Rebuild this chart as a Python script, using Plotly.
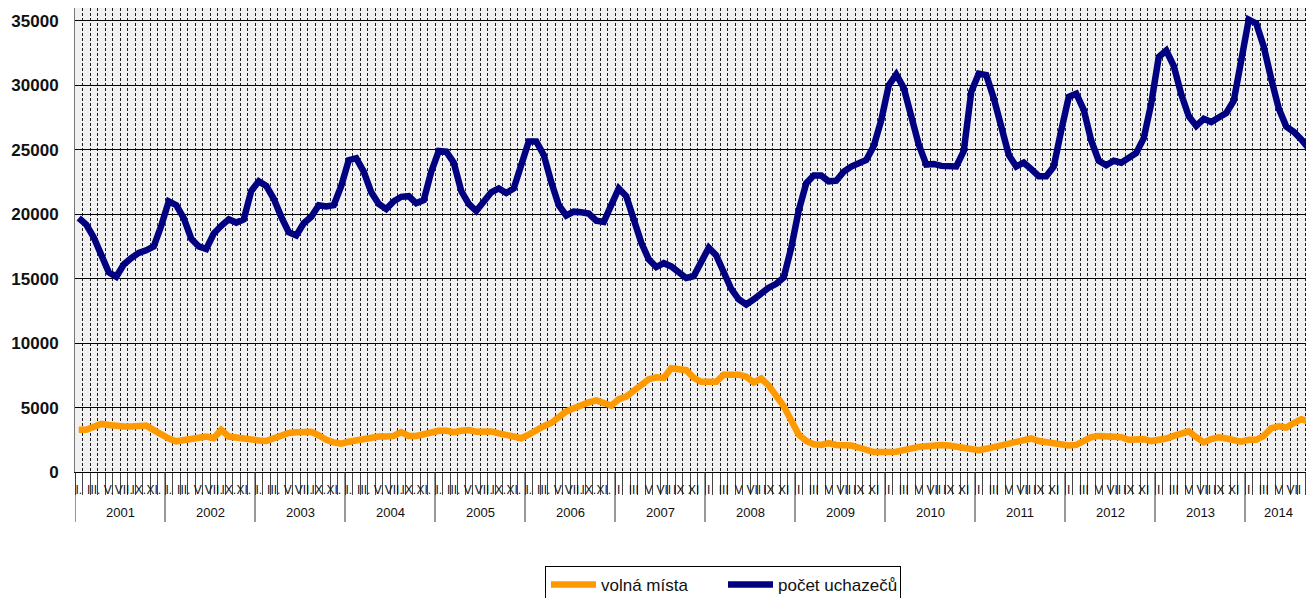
import plotly.graph_objects as go

# Data: monthly values, Jan 2001 - Sep 2014
years = [2001, 2002, 2003, 2004, 2005, 2006, 2007, 2008, 2009, 2010, 2011, 2012, 2013, 2014]
months_roman = ["I", "II", "III", "IV", "V", "VI", "VII", "VIII", "IX", "X", "XI", "XII"]

pocet_uchazecu = [
    19700, 19200, 18200, 16700, 15500, 15150, 16100, 16600, 17000, 17200, 17500, 19100,  # 2001
    21000, 20700, 19700, 18100, 17500, 17300, 18500, 19100, 19600, 19350, 19600, 21800,  # 2002
    22550, 22200, 21200, 19800, 18600, 18350, 19300, 19800, 20700, 20600, 20700, 22200,  # 2003
    24200, 24350, 23300, 21700, 20800, 20400, 21000, 21350, 21400, 20850, 21100, 23300,  # 2004
    24900, 24850, 24000, 21800, 20800, 20250, 21000, 21700, 22000, 21650, 22000, 23900,  # 2005
    25650, 25650, 24600, 22500, 20700, 19900, 20200, 20150, 20050, 19500, 19400, 20700,  # 2006
    22000, 21400, 19600, 17800, 16500, 15900, 16200, 15950, 15500, 15050, 15200, 16300,  # 2007
    17400, 16800, 15400, 14200, 13400, 13000, 13400, 13900, 14300, 14600, 15100, 17400,  # 2008
    20300, 22400, 23000, 23000, 22550, 22600, 23300, 23700, 24000, 24200, 25300, 27300,  # 2009
    30000, 30850, 29800, 27400, 25400, 23850, 23900, 23750, 23700, 23700, 24900, 29500,  # 2010
    30900, 30800, 29000, 26800, 24600, 23700, 24000, 23500, 22950, 22950, 23700, 26500,  # 2011
    29100, 29350, 28100, 25700, 24150, 23800, 24150, 24000, 24450, 24750, 25900, 28600,  # 2012
    32200, 32700, 31500, 29300, 27600, 26850, 27400, 27150, 27500, 27850, 28800, 31700,  # 2013
    35100, 34800, 33000, 30500, 28200, 26800, 26400, 25800, 25100,                       # 2014
]

volna_mista = [
    3270, 3270, 3500, 3730, 3650, 3550, 3530, 3530, 3580, 3600, 3250, 2850,  # 2001
    2600, 2380, 2450, 2600, 2700, 2750, 2620, 3270, 2750, 2650, 2650, 2550,  # 2002
    2450, 2400, 2650, 2800, 3030, 3080, 3120, 3120, 2850, 2500, 2300, 2200,  # 2003
    2350, 2450, 2600, 2650, 2750, 2750, 2800, 3100, 2800, 2800, 2950, 3100,  # 2004
    3200, 3200, 3080, 3200, 3250, 3130, 3150, 3150, 3000, 2850, 2650, 2620,  # 2005
    2900, 3250, 3550, 3800, 4300, 4700, 4950, 5200, 5400, 5550, 5300, 5150,  # 2006
    5650, 5850, 6300, 6800, 7200, 7350, 7300, 8050, 7950, 7900, 7300, 7000,  # 2007
    7000, 7000, 7550, 7550, 7550, 7400, 6950, 7250, 6700, 5900, 5100, 4000,  # 2008
    2900, 2400, 2150, 2100, 2250, 2100, 2100, 2050, 1900, 1700, 1550, 1550,  # 2009
    1550, 1580, 1700, 1850, 1950, 2000, 2100, 2100, 2050, 1950, 1800, 1780,  # 2010
    1700, 1800, 1950, 2100, 2250, 2350, 2450, 2600, 2400, 2300, 2150, 2050,  # 2011
    2050, 2100, 2400, 2700, 2800, 2800, 2800, 2700, 2500, 2550, 2550, 2400,  # 2012
    2450, 2600, 2800, 3000, 3150, 2700, 2300, 2550, 2700, 2600, 2450, 2350,  # 2013
    2500, 2500, 2800, 3400, 3550, 3450, 3800, 4100, 3900,                    # 2014
]

n = len(pocet_uchazecu)
x = list(range(n))
font = "Liberation Sans, Arial, sans-serif"

fig = go.Figure()
fig.add_trace(go.Scatter(x=x, y=volna_mista, mode="lines", name="volná místa",
                         line=dict(color="#FF9900", width=6.5)))
fig.add_trace(go.Scatter(x=x, y=pocet_uchazecu, mode="lines", name="počet uchazečů",
                         line=dict(color="#000080", width=6.5)))

# month labels on every other month, year labels below
tickvals = [i for i in x if i % 2 == 0]
ticktext = []
for i in tickvals:
    yr = years[i // 12]
    lab = months_roman[i % 12]
    ticktext.append(lab + "." if yr <= 2006 else lab)

plot_h = 464.0
for k, yr in enumerate(years):
    first = k * 12
    last = min(first + 11, n - 1)
    fig.add_annotation(x=(first + last) / 2, y=-40 / plot_h, xref="x", yref="paper",
                       text=str(yr), showarrow=False, yanchor="middle",
                       font=dict(family=font, size=13, color="#111"))
    fig.add_shape(type="line", xref="x", yref="paper", x0=first - 0.5, x1=first - 0.5,
                  y0=0, y1=-50 / plot_h, line=dict(color="#333", width=1))

fig.update_xaxes(
    range=[-0.5, 164.7], tickvals=tickvals, ticktext=ticktext, ticks="", tickangle=0,
    tickfont=dict(family=font, size=12, color="#111"), ticklabelstandoff=7,
    showgrid=False, zeroline=False, showline=True, linecolor="#000", linewidth=1,
    minor=dict(tick0=-0.5, dtick=1, ticks="outside", ticklen=22, tickcolor="#444",
               showgrid=True, gridcolor="#1a1a1a", griddash="3px,2px", gridwidth=1),
)
fig.update_yaxes(
    range=[0, 36000], tickvals=[0, 5000, 10000, 15000, 20000, 25000, 30000, 35000],
    tickformat="d", ticks="",
    tickfont=dict(family=font, size=17, color="#111", weight="bold"),
    ticklabelstandoff=12, showgrid=True, gridcolor="#000", gridwidth=1,
    zeroline=False, showline=True, linecolor="#777", linewidth=1,
)

# page body keeps an 8px margin, so the figure is sized and offset to match
fig.update_layout(
    width=1306, height=590,
    margin=dict(l=67, r=0, t=0, b=126, autoexpand=False),
    paper_bgcolor="white", plot_bgcolor="#f1f1f1",
    font=dict(family=font),
    legend=dict(orientation="h", x=0.523, xanchor="center", y=-94 / plot_h, yanchor="top",
                bordercolor="#000", borderwidth=1, bgcolor="white", itemwidth=45,
                font=dict(family=font, size=17, color="#111"), entrywidth=117),
    showlegend=True,
)

fig.write_html("out.html")
